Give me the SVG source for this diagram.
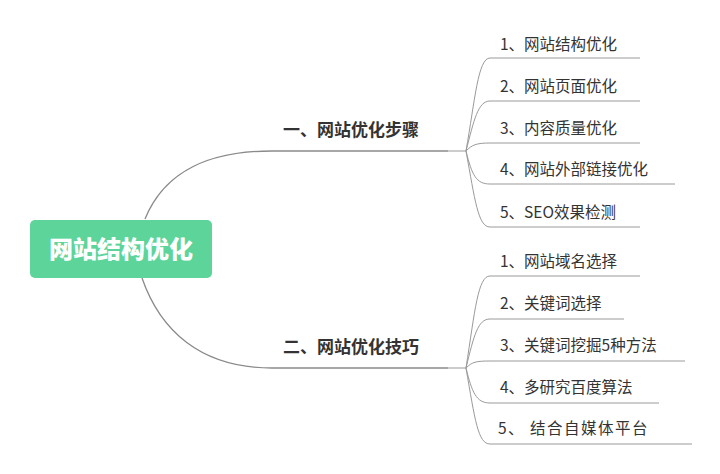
<svg xmlns="http://www.w3.org/2000/svg" width="720" height="474" viewBox="0 0 720 474">
<style>
.c{fill:none;stroke:#8a8a8a;stroke-width:1.3}
.l{fill:none;stroke:#9a9a9a;stroke-width:1}
.b{font-family:"Noto Sans CJK SC",sans-serif;font-size:17px;font-weight:bold;fill:#333}
.t{font-family:"Noto Sans CJK SC",sans-serif;font-size:15.5px;fill:#333}
.r{font-family:"Noto Sans CJK SC",sans-serif;font-size:24px;font-weight:900;fill:#fff}
</style>
<rect width="720" height="474" fill="#fff"/>
<g id="connectors">
<path class="c" d="M145 219 C165 170 210 151 272 151 L448 151"/>
<path class="c" d="M142 278 C160 330 200 368 272 368 L448 368"/>
<path class="l" d="M448 151 L466 151"/>
<path class="l" d="M448 368 L466 368"/>
<path class="l" d="M466 151 C475 100 478 58 490 58 L640 58"/>
<path class="l" d="M466 151 C474 120 478 101 490 101 L640 101"/>
<path class="l" d="M466 151 C472 145 476 143 490 143 L640 143"/>
<path class="l" d="M466 151 C472 175 476 184 490 184 L675 184"/>
<path class="l" d="M466 151 C475 200 478 227 490 227 L640 227"/>
<path class="l" d="M466 368 C475 310 478 276 490 276 L640 276"/>
<path class="l" d="M466 368 C474 335 478 319 490 319 L624 319"/>
<path class="l" d="M466 368 C472 362 476 361 490 361 L685 361"/>
<path class="l" d="M466 368 C472 392 476 403 490 403 L659 403"/>
<path class="l" d="M466 368 C475 420 478 444 490 444 L692 444"/>
</g>
<g id="root"><rect x="30" y="220" width="182" height="58" rx="5" fill="#5cd49a"/><text class="r" x="121" y="258" text-anchor="middle">网站结构优化</text></g>
<g id="b1"><text class="b" x="283" y="136">一、网站优化步骤</text></g>
<g id="b2"><text class="b" x="283" y="353">二、网站优化技巧</text></g>
<g id="a1"><text class="t" x="500" y="50">1、网站结构优化</text></g>
<g id="a2"><text class="t" x="500" y="92">2、网站页面优化</text></g>
<g id="a3"><text class="t" x="500" y="134">3、内容质量优化</text></g>
<g id="a4"><text class="t" x="500" y="175">4、网站外部链接优化</text></g>
<g id="a5"><text class="t" x="500" y="218">5、SEO效果检测</text></g>
<g id="c1"><text class="t" x="500" y="267">1、网站域名选择</text></g>
<g id="c2"><text class="t" x="500" y="309">2、关键词选择</text></g>
<g id="c3"><text class="t" x="500" y="351">3、关键词挖掘5种方法</text></g>
<g id="c4"><text class="t" x="500" y="393">4、多研究百度算法</text></g>
<g id="c5"><text class="t" x="498" y="434" font-size="17" letter-spacing="1.5">5、 结合自媒体平台</text></g>
</svg>
